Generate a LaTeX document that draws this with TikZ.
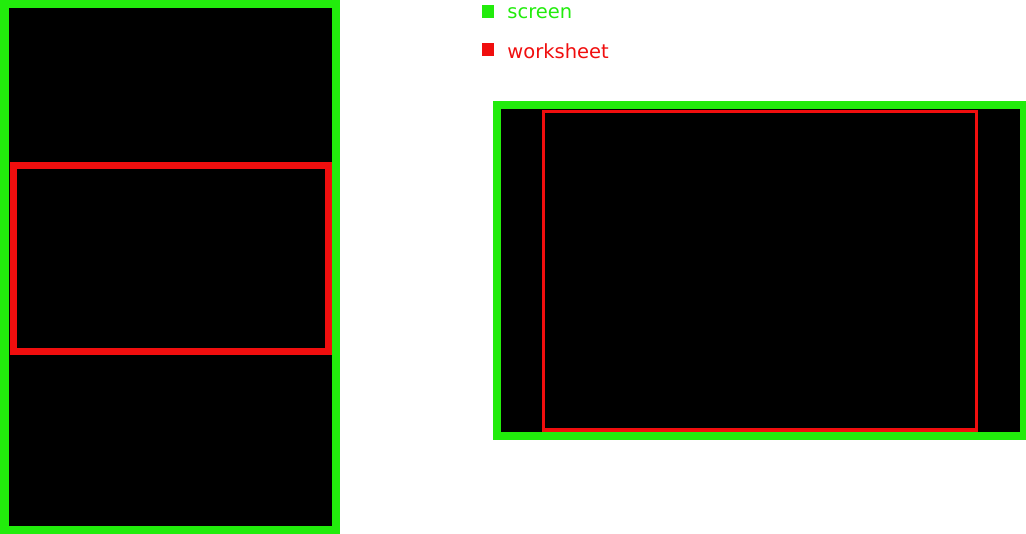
\documentclass[tikz,border=0pt]{standalone}
\usepackage{fontspec}
\setmainfont{DejaVu Sans}
\usepackage{tikz}
\usetikzlibrary{positioning}

\definecolor{scrgreen}{RGB}{34,236,12}
\definecolor{wksred}{RGB}{240,14,14}

\begin{document}
\begin{tikzpicture}[x=1pt, y=-1pt,
    screen/.style={draw=scrgreen, fill=black, line width=8.5pt},
    sheet/.style={draw=wksred, line width=7pt},
    legendkey/.style={fill=#1, inner sep=0pt, minimum width=12pt, minimum height=13pt},
    legendtext/.style={text=#1, inner sep=0pt, anchor=west, font=\fontsize{19.5}{21}\selectfont}
  ]
  \useasboundingbox (0,0) rectangle (1026,534);

  % Hochformat
  \draw[screen] (4.25,4.25) rectangle (335.75,529.75);
  \draw[sheet] (13.5,165.5) rectangle (328.5,351.5);

  % Querformat
  \draw[screen, line width=8pt] (497,105) rectangle (1024,436);
  \draw[sheet, line width=3.5pt] (543.5,111.5) rectangle (976.5,430);

  % Legende
  \node[legendkey=scrgreen] (keyscreen) at (488,11.5) {};
  \node[legendkey=wksred] (keysheet) at (488,49.5) {};
  \node[legendtext=scrgreen, right=13pt of keyscreen, yshift=-1.5pt] (labscreen) {screen};
  \node[legendtext=wksred, right=13pt of keysheet, yshift=-1.5pt] (labsheet) {worksheet};
\end{tikzpicture}
\end{document}
